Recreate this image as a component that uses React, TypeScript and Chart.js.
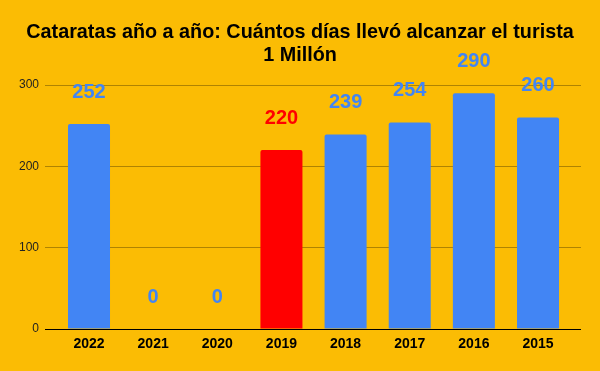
import React, { useEffect, useRef } from "react";
import { Chart, registerables } from "chart.js";

Chart.register(...registerables);

const categories = ["2022", "2021", "2020", "2019", "2018", "2017", "2016", "2015"];
const days = [252, 0, 0, 220, 239, 254, 290, 260];
const barColors = ["#4285F4", "#4285F4", "#4285F4", "#FF0000", "#4285F4", "#4285F4", "#4285F4", "#4285F4"];
const titleLines = ["Cataratas año a año: Cuántos días llevó alcanzar el turista", "1 Millón"];
const yTicks = { min: 0, max: 300, step: 100 };

const FONT = 'Arial, "Liberation Sans", sans-serif';

const valueLabels = {
  id: "valueLabels",
  afterDatasetsDraw(chart: any) {
    const ctx = chart.ctx;
    const meta = chart.getDatasetMeta(0);
    ctx.save();
    ctx.font = `bold 20px ${FONT}`;
    ctx.textAlign = "center";
    ctx.textBaseline = "middle";
    meta.data.forEach((el: any, i: number) => {
      ctx.fillStyle = barColors[i];
      ctx.fillText(String(days[i]), el.x, el.y - 32);
    });
    ctx.restore();
  },
};

export default function App() {
  const ref = useRef<HTMLCanvasElement | null>(null);
  useEffect(() => {
    document.body.style.margin = "0";
    const chart = new Chart(ref.current!, {
      type: "bar",
      data: {
        datasets: [
          {
            data: days.map((v, i) => ({ x: i, y: v })),
            backgroundColor: barColors,
            categoryPercentage: 1,
            barPercentage: 0.655,
            borderRadius: 2,
            borderSkipped: "start",
          },
        ],
      },
      options: {
        animation: false,
        responsive: false,
        layout: { padding: 0 },
        plugins: {
          legend: { display: false },
          tooltip: { enabled: false },
          title: {
            display: true,
            text: titleLines,
            color: "#000",
            font: { family: FONT, size: 19.8, weight: "bold", lineHeight: "23px" as any },
            padding: { top: 21, bottom: 18 },
          },
        },
        scales: {
          x: {
            type: "linear",
            offset: false,
            min: -0.686,
            max: 7.67,
            grid: { display: false, drawTicks: false },
            border: { display: false },
            afterFit: (s: any) => {
              s.height = 42;
            },
            ticks: {
              stepSize: 1,
              includeBounds: false,
              autoSkip: false,
              maxRotation: 0,
              padding: 7,
              color: "#000",
              font: { family: FONT, size: 14, weight: "bold" },
              callback: (v: any) => {
                const n = Number(v);
                return Number.isInteger(n) && n >= 0 && n < categories.length ? categories[n] : "";
              },
            },
          },
          y: {
            min: yTicks.min,
            max: yTicks.max,
            border: { display: false },
            afterFit: (s: any) => {
              s.width = 45;
            },
            grid: {
              drawTicks: false,
              color: (c: any) => (c.tick && c.tick.value === 0 ? "#000000" : "rgba(0,0,0,0.3)"),
              lineWidth: 1,
            },
            ticks: {
              stepSize: yTicks.step,
              padding: 6,
              color: "#222",
              font: { family: FONT, size: 12 },
            },
          },
          yRight: {
            position: "right",
            min: yTicks.min,
            max: yTicks.max,
            border: { display: false },
            grid: { display: false, drawTicks: false },
            ticks: { display: false },
            afterFit: (s: any) => {
              s.width = 19;
            },
          },
        },
      },
      plugins: [valueLabels],
    });
    return () => chart.destroy();
  }, []);
  return (
    <div style={{ width: 600, height: 371, background: "#FBBC04" }}>
      <canvas ref={ref} width={600} height={371} style={{ display: "block" }} />
    </div>
  );
}
